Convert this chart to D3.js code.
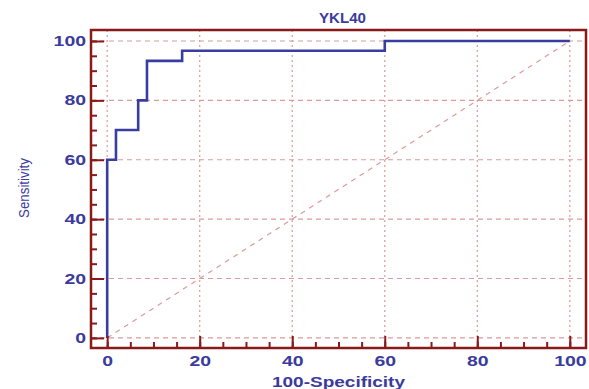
<!DOCTYPE html>
<html>
<head>
<meta charset="utf-8">
<script src="https://cdn.jsdelivr.net/npm/d3@7"></script>
<style>
  body { margin: 0; background: #fff; }
  svg { display: block; }
</style>
</head>
<body>
<div id="chart"></div>
<script>
// ROC curve points (100-Specificity, Sensitivity)
const fpr = [0, 0, 1.9, 1.9, 6.7, 6.7, 8.6, 8.6, 16.2, 16.2, 60, 60, 100];
const tpr = [0, 60, 60, 70, 70, 80, 80, 93.3, 93.3, 96.7, 96.7, 100, 100];
const majorTicks = [0, 20, 40, 60, 80, 100];
const minorTicks = d3.range(0, 101, 5);
const title = "YKL40";
const xTitle = "100-Specificity";
const yTitle = "Sensitivity";

const width = 589, height = 389;
const plotLeft = 91, plotRight = 586, plotTop = 30, plotBottom = 348;
const frameColor = "#8a1a1a";
const textColor = "#3b3b9e";
const gridColor = "#dc9a9a";

const svg = d3.select("#chart").append("svg")
  .attr("width", width).attr("height", height);

const x = d3.scaleLinear().domain([-3.5, 103.5]).range([plotLeft, plotRight]);
const y = d3.scaleLinear().domain([-3.4, 103.7]).range([plotBottom, plotTop]);

// grid
svg.append("g").selectAll("line").data(majorTicks).enter().append("line")
  .attr("x1", d => x(d)).attr("x2", d => x(d))
  .attr("y1", plotTop).attr("y2", plotBottom)
  .attr("stroke", gridColor).attr("stroke-width", 1.2)
  .attr("stroke-dasharray", "2,3");
svg.append("g").selectAll("line").data(majorTicks).enter().append("line")
  .attr("y1", d => y(d)).attr("y2", d => y(d))
  .attr("x1", plotLeft).attr("x2", plotRight)
  .attr("stroke", gridColor).attr("stroke-width", 1.2)
  .attr("stroke-dasharray", "5,4");

// diagonal reference
svg.append("line")
  .attr("x1", x(0)).attr("y1", y(0)).attr("x2", x(100)).attr("y2", y(100))
  .attr("stroke", gridColor).attr("stroke-width", 1.2)
  .attr("stroke-dasharray", "5,5");

// ROC line
const pts = fpr.map((v, i) => [v, tpr[i]]);
svg.append("path")
  .attr("d", d3.line().x(d => x(d[0])).y(d => y(d[1]))(pts))
  .attr("fill", "none").attr("stroke", "#3a3da0").attr("stroke-width", 2.6);

// axes (ticks pointing inwards)
const styleAxis = g => {
  g.select(".domain").remove();
  g.selectAll(".tick line").attr("stroke", frameColor).attr("stroke-width", 2);
};
svg.append("g").attr("transform", `translate(${plotLeft},0)`)
  .call(d3.axisLeft(y).tickValues(minorTicks).tickSize(-6).tickFormat(""))
  .call(styleAxis);
svg.append("g").attr("transform", `translate(${plotLeft},0)`)
  .call(d3.axisLeft(y).tickValues(majorTicks).tickSize(-13).tickPadding(5))
  .call(styleAxis);
svg.append("g").attr("transform", `translate(0,${plotBottom})`)
  .call(d3.axisBottom(x).tickValues(minorTicks).tickSize(-6).tickFormat(""))
  .call(styleAxis);
svg.append("g").attr("transform", `translate(0,${plotBottom})`)
  .call(d3.axisBottom(x).tickValues(majorTicks).tickSize(-12).tickPadding(8))
  .call(styleAxis);

svg.selectAll(".tick text")
  .attr("fill", textColor)
  .attr("font-family", "Liberation Sans, Arial, sans-serif")
  .attr("font-size", 14)
  .attr("font-weight", 600)
  .attr("textLength", function () { return this.textContent.length * 10.8; })
  .attr("lengthAdjust", "spacingAndGlyphs");

// frame
svg.append("rect")
  .attr("x", plotLeft).attr("y", plotTop)
  .attr("width", plotRight - plotLeft).attr("height", plotBottom - plotTop)
  .attr("fill", "none").attr("stroke", frameColor).attr("stroke-width", 2.5);

// titles
svg.append("text")
  .attr("x", (plotLeft + plotRight) / 2 + 4).attr("y", 23)
  .attr("text-anchor", "middle")
  .attr("fill", textColor)
  .attr("font-family", "Liberation Sans, Arial, sans-serif")
  .attr("font-size", 14).attr("font-weight", "bold")
  .attr("textLength", 47).attr("lengthAdjust", "spacingAndGlyphs")
  .text(title);

svg.append("text")
  .attr("x", (plotLeft + plotRight) / 2).attr("y", 387)
  .attr("text-anchor", "middle")
  .attr("fill", textColor)
  .attr("font-family", "Liberation Sans, Arial, sans-serif")
  .attr("font-size", 14).attr("font-weight", "bold")
  .attr("textLength", 133).attr("lengthAdjust", "spacingAndGlyphs")
  .text(xTitle);

svg.append("text")
  .attr("transform", "translate(29,188) rotate(-90)")
  .attr("text-anchor", "middle")
  .attr("fill", textColor)
  .attr("font-family", "Liberation Sans, Arial, sans-serif")
  .attr("font-size", 14)
  .attr("textLength", 60).attr("lengthAdjust", "spacingAndGlyphs")
  .text(yTitle);
</script>
</body>
</html>
